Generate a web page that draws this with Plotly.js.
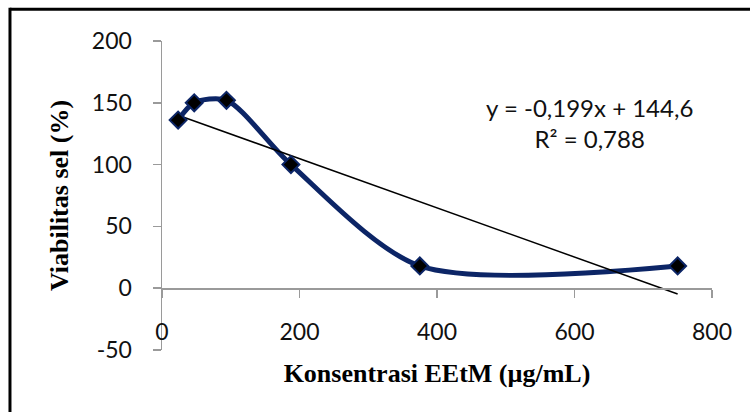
<!DOCTYPE html>
<html>
<head>
<meta charset="utf-8">
<script src="https://cdn.plot.ly/plotly-3.0.1.min.js"></script>
<style>
html,body{margin:0;padding:0;background:#fff;}
#chart{width:750px;height:412px;}
</style>
</head>
<body>
<div id="chart"></div>
<script>
// Data
const concentrations = [23.4375, 46.875, 93.75, 187.5, 375, 750];
const viability = [136, 150, 152, 100, 18, 18];
const trendSlope = -0.199;
const trendIntercept = 144.6;
const trendX = [23.4375, 750];
const xTicks = [0, 200, 400, 600, 800];
const yTicks = [-50, 0, 50, 100, 150, 200];
const equationText = 'y = -0,199x + 144,6';
const r2Text = 'R² = 0,788';
const xTitle = 'Konsentrasi EEtM (µg/mL)';
const yTitle = 'Viabilitas sel (%)';

const trendY = trendX.map(x => trendSlope * x + trendIntercept);

const navy = '#0c2566';
const axisGray = '#9a9a9a';
const tickFont = {family: 'Lato, "Open Sans", sans-serif', size: 23, color: '#111'};
const titleFont = {family: '"Liberation Serif", "Times New Roman", serif', size: 26, color: '#000'};

const traces = [
  {
    x: concentrations, y: viability, type: 'scatter', mode: 'lines',
    line: {shape: 'spline', smoothing: 0.8, color: navy, width: 5},
    hoverinfo: 'skip', showlegend: false
  },
  {
    x: trendX, y: trendY, type: 'scatter', mode: 'lines',
    line: {color: '#000', width: 1.5},
    showlegend: false
  },
  {
    x: concentrations, y: viability, type: 'scatter', mode: 'markers',
    marker: {symbol: 'diamond', size: 13, color: '#000', line: {color: navy, width: 2}},
    showlegend: false
  }
];

const layout = {
  width: 750, height: 412,
  margin: {l: 162, r: 38, t: 41, b: 62},
  paper_bgcolor: '#fff', plot_bgcolor: '#fff',
  showlegend: false,
  xaxis: {
    range: [0, 800], tickvals: xTicks, ticktext: xTicks.map(String),
    anchor: 'free', position: 0.2,
    showline: true, linecolor: axisGray, linewidth: 1.5,
    ticks: 'outside', ticklen: 8, tickcolor: axisGray, tickwidth: 1.5,
    ticklabelstandoff: 15,
    showgrid: false, zeroline: false,
    tickfont: tickFont,
    title: {text: '<b>' + xTitle + '</b>', font: titleFont, standoff: 19}
  },
  yaxis: {
    range: [-50, 200], tickvals: yTicks, ticktext: yTicks.map(String),
    showline: true, linecolor: axisGray, linewidth: 1.5,
    ticks: 'outside', ticklen: 8, tickcolor: axisGray, tickwidth: 1.5,
    ticklabelstandoff: 16,
    showgrid: false, zeroline: false,
    tickfont: tickFont,
    title: {text: '<b>' + yTitle + '</b>', font: titleFont, standoff: 16}
  },
  annotations: [
    {
      x: 622, y: 134, xref: 'x', yref: 'y',
      text: equationText + '<br>' + r2Text,
      showarrow: false, align: 'center',
      font: {family: 'Lato, "Open Sans", sans-serif', size: 24, color: '#111'}
    }
  ],
  shapes: [
    {type: 'line', xref: 'paper', yref: 'paper', x0: -0.2764, x1: 1.08, y0: 1.103, y1: 1.103, line: {color: '#000', width: 3}},
    {type: 'line', xref: 'paper', yref: 'paper', x0: -0.2764, x1: -0.2764, y0: 1.108, y1: -0.25, line: {color: '#000', width: 3}}
  ]
};

Plotly.newPlot('chart', traces, layout, {displayModeBar: false, staticPlot: true});
</script>
</body>
</html>
